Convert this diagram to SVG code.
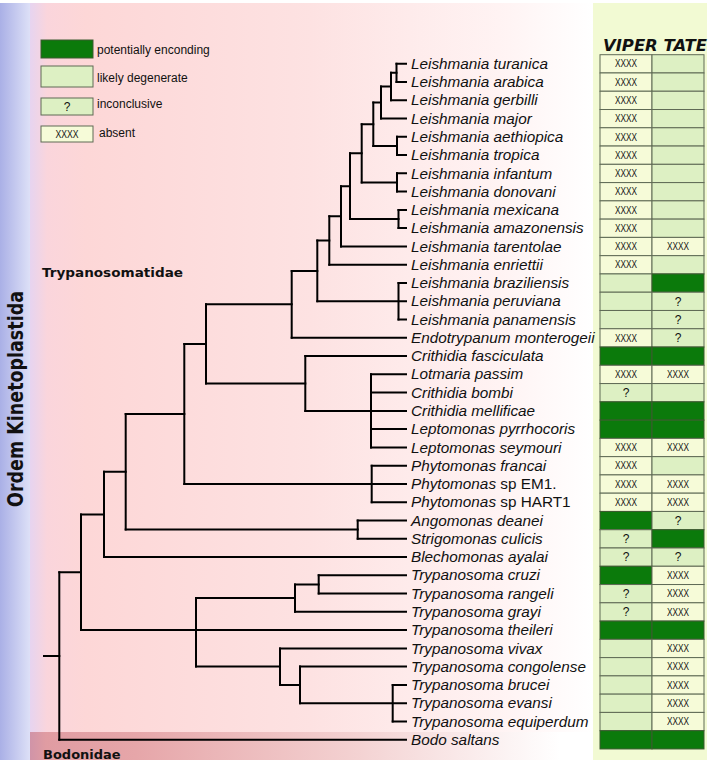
<svg xmlns="http://www.w3.org/2000/svg" width="709" height="763" viewBox="0 0 709 763">
<defs>
<linearGradient id="gBlue" gradientUnits="userSpaceOnUse" x1="0" y1="0" x2="30" y2="0"><stop offset="0" stop-color="#aab0e6"/><stop offset="1" stop-color="#dde0f7"/></linearGradient>
<linearGradient id="gPink" gradientUnits="userSpaceOnUse" x1="30" y1="0" x2="593" y2="0"><stop offset="0" stop-color="#e6d4f0"/><stop offset="0.03" stop-color="#fad5dc"/><stop offset="0.1" stop-color="#fdd7d7"/><stop offset="0.5" stop-color="#fde2e2"/><stop offset="0.85" stop-color="#fff4f4"/><stop offset="1" stop-color="#ffffff"/></linearGradient>
<linearGradient id="gBodo" gradientUnits="userSpaceOnUse" x1="30" y1="0" x2="560" y2="0"><stop offset="0" stop-color="#d094a8"/><stop offset="0.03" stop-color="#e09ca2"/><stop offset="0.2" stop-color="#e6a6a9"/><stop offset="0.6" stop-color="#f3d0d0"/><stop offset="1" stop-color="#ffffff"/></linearGradient>
<style>
.lab{font-family:"Liberation Sans",Arial,sans-serif;font-style:italic;font-size:15.3px;fill:#111}
.up{font-style:normal}
.bold{font-family:"DejaVu Sans",Verdana,sans-serif;font-weight:bold;fill:#111}
.leg{font-family:"Liberation Sans",Arial,sans-serif;font-size:12px;fill:#111}
.xx{font-family:"Liberation Sans",Arial,sans-serif;font-size:10px;fill:#111;text-anchor:middle}
.q{font-family:"Liberation Sans",Arial,sans-serif;font-size:12px;fill:#111;text-anchor:middle}
.pe{fill:#0b7a0b;stroke:#3d5a30;stroke-width:1}
.ld{fill:#ddf0c3;stroke:#5f6a55;stroke-width:1}
.ab{fill:#f6fbd8;stroke:#5f6a55;stroke-width:1}
.tree{fill:none;stroke:#000;stroke-width:2;stroke-linecap:square}
</style>
</defs>
<g id="background">
<rect x="0" y="3" width="30" height="757" fill="url(#gBlue)"/>
<rect x="30" y="3" width="563" height="729" fill="url(#gPink)"/>
<rect x="30" y="732" width="563" height="28" fill="url(#gBodo)"/>
<rect x="593" y="3" width="114" height="757" fill="#f2fad3"/>
</g>
<g id="labels">
<text class="bold" font-size="22" textLength="216" lengthAdjust="spacingAndGlyphs" text-anchor="middle" transform="translate(23,399) rotate(-90)">Ordem Kinetoplastida</text>
<text class="bold" x="42" y="277" font-size="11.5" textLength="141" lengthAdjust="spacingAndGlyphs">Trypanosomatidae</text>
<text class="bold" x="43" y="759" font-size="13">Bodonidae</text>
<text class="bold" x="603" y="51" font-size="15.5" font-style="italic" textLength="104" lengthAdjust="spacingAndGlyphs">VIPER TATE</text>
</g>
<g id="legend">
<rect class="pe" x="41" y="40" width="52" height="18"/><text class="leg" x="97" y="54">potentially enconding</text>
<rect class="ld" x="41" y="66" width="52" height="21"/><text class="leg" x="97" y="82">likely degenerate</text>
<rect class="ld" x="41" y="98" width="52" height="17"/><text class="q" x="67" y="111">?</text><text class="leg" x="97" y="108">inconclusive</text>
<rect class="ab" x="41" y="126" width="52" height="16"/><text class="xx" x="67" y="138" textLength="23" lengthAdjust="spacingAndGlyphs">XXXX</text><text class="leg" x="99" y="137">absent</text>
</g>
<g id="connectors" class="tree">
<path d="M396.5,63.7V82M391,72.85V100.2M381,86.5V118.5M397,136.8V155.1M373.3,102.5V145.95M397,173.3V191.6M361.7,124.2V182.45M398.5,209.9V228.1M350,153.3V219M341,186.2V246.4M329.3,216.3V264.7M398.5,283V319.5M317.3,240.5V301.2M291.7,270.9V337.8M371,374.3V447.4M305.3,356V410.9M206,304.3V383.5M371.7,465.7V502.2M184.3,343.9V483.9M357.7,520.5V538.7M125.7,413.9V529.6M104,471.7V557M318.7,575.3V593.6M295,584.4V611.8M392.7,684.9V721.4M300,666.6V703.2M280,648.4V684.9M196,598.1V666.6M81,514.4V630.1M59.3,572.3V739.7"/>
<path d="M391,72.85H396.5M381,86.5H391M373.3,102.5H381M373.3,145.95H397M361.7,124.2H373.3M361.7,182.45H397M350,153.3H361.7M350,219H398.5M341,186.2H350M329.3,216.3H341M317.3,240.5H329.3M291.7,270.9H317.3M206,304.3H291.7M206,383.5H305.3M184.3,343.9H206M125.7,413.9H184.3M125.7,529.6H357.7M104,471.7H125.7M81,514.4H104M295,584.4H318.7M196,598.1H295M280,666.6H196M280,684.9H300M59.3,572.3H81M44,656H59.3"/>
<path d="M396.5,63.7H406M396.5,82H406M391,100.2H406M381,118.5H406M397,136.8H406M397,155.1H406M397,173.3H406M397,191.6H406M398.5,209.9H406M398.5,228.1H406M341,246.4H406M329.3,264.7H406M398.5,283H406M317.3,301.2H406M398.5,319.5H406M291.7,337.8H406M305.3,356H406M371,374.3H406M371,392.6H406M305.3,410.9H406M371,429.1H406M371,447.4H406M371.7,465.7H406M184.3,483.9H406M371.7,502.2H406M357.7,520.5H406M357.7,538.7H406M104,557H406M318.7,575.3H406M318.7,593.6H406M295,611.8H406M81,630.1H406M280,648.4H406M300,666.6H406M392.7,684.9H406M300,703.2H406M392.7,721.4H406M59.3,739.7H406"/>
</g>
<g id="t00" transform="translate(0,54.7)"><text class="lab" x="411" y="14.2">Leishmania turanica</text><rect class="ab" x="600" width="52" height="18.27"/><text class="xx" x="626" y="12.8" textLength="22" lengthAdjust="spacingAndGlyphs">XXXX</text><rect class="ld" x="652" width="52" height="18.27"/></g>
<g id="t01" transform="translate(0,72.97)"><text class="lab" x="411" y="14.2">Leishmania arabica</text><rect class="ab" x="600" width="52" height="18.27"/><text class="xx" x="626" y="12.8" textLength="22" lengthAdjust="spacingAndGlyphs">XXXX</text><rect class="ld" x="652" width="52" height="18.27"/></g>
<g id="t02" transform="translate(0,91.24)"><text class="lab" x="411" y="14.2">Leishmania gerbilli</text><rect class="ab" x="600" width="52" height="18.27"/><text class="xx" x="626" y="12.8" textLength="22" lengthAdjust="spacingAndGlyphs">XXXX</text><rect class="ld" x="652" width="52" height="18.27"/></g>
<g id="t03" transform="translate(0,109.51)"><text class="lab" x="411" y="14.2">Leishmania major</text><rect class="ab" x="600" width="52" height="18.27"/><text class="xx" x="626" y="12.8" textLength="22" lengthAdjust="spacingAndGlyphs">XXXX</text><rect class="ld" x="652" width="52" height="18.27"/></g>
<g id="t04" transform="translate(0,127.78)"><text class="lab" x="411" y="14.2">Leishmania aethiopica</text><rect class="ab" x="600" width="52" height="18.27"/><text class="xx" x="626" y="12.8" textLength="22" lengthAdjust="spacingAndGlyphs">XXXX</text><rect class="ld" x="652" width="52" height="18.27"/></g>
<g id="t05" transform="translate(0,146.05)"><text class="lab" x="411" y="14.2">Leishmania tropica</text><rect class="ab" x="600" width="52" height="18.27"/><text class="xx" x="626" y="12.8" textLength="22" lengthAdjust="spacingAndGlyphs">XXXX</text><rect class="ld" x="652" width="52" height="18.27"/></g>
<g id="t06" transform="translate(0,164.32)"><text class="lab" x="411" y="14.2">Leishmania infantum</text><rect class="ab" x="600" width="52" height="18.27"/><text class="xx" x="626" y="12.8" textLength="22" lengthAdjust="spacingAndGlyphs">XXXX</text><rect class="ld" x="652" width="52" height="18.27"/></g>
<g id="t07" transform="translate(0,182.59)"><text class="lab" x="411" y="14.2">Leishmania donovani</text><rect class="ab" x="600" width="52" height="18.27"/><text class="xx" x="626" y="12.8" textLength="22" lengthAdjust="spacingAndGlyphs">XXXX</text><rect class="ld" x="652" width="52" height="18.27"/></g>
<g id="t08" transform="translate(0,200.86)"><text class="lab" x="411" y="14.2">Leishmania mexicana</text><rect class="ab" x="600" width="52" height="18.27"/><text class="xx" x="626" y="12.8" textLength="22" lengthAdjust="spacingAndGlyphs">XXXX</text><rect class="ld" x="652" width="52" height="18.27"/></g>
<g id="t09" transform="translate(0,219.13)"><text class="lab" x="411" y="14.2">Leishmania amazonensis</text><rect class="ab" x="600" width="52" height="18.27"/><text class="xx" x="626" y="12.8" textLength="22" lengthAdjust="spacingAndGlyphs">XXXX</text><rect class="ld" x="652" width="52" height="18.27"/></g>
<g id="t10" transform="translate(0,237.4)"><text class="lab" x="411" y="14.2">Leishmania tarentolae</text><rect class="ab" x="600" width="52" height="18.27"/><text class="xx" x="626" y="12.8" textLength="22" lengthAdjust="spacingAndGlyphs">XXXX</text><rect class="ab" x="652" width="52" height="18.27"/><text class="xx" x="678" y="12.8" textLength="22" lengthAdjust="spacingAndGlyphs">XXXX</text></g>
<g id="t11" transform="translate(0,255.67)"><text class="lab" x="411" y="14.2">Leishmania enriettii</text><rect class="ab" x="600" width="52" height="18.27"/><text class="xx" x="626" y="12.8" textLength="22" lengthAdjust="spacingAndGlyphs">XXXX</text><rect class="ld" x="652" width="52" height="18.27"/></g>
<g id="t12" transform="translate(0,273.94)"><text class="lab" x="411" y="14.2">Leishmania braziliensis</text><rect class="ld" x="600" width="52" height="18.27"/><rect class="pe" x="652" width="52" height="18.27"/></g>
<g id="t13" transform="translate(0,292.21)"><text class="lab" x="411" y="14.2">Leishmania peruviana</text><rect class="ld" x="600" width="52" height="18.27"/><rect class="ld" x="652" width="52" height="18.27"/><text class="q" x="678" y="13.5">?</text></g>
<g id="t14" transform="translate(0,310.48)"><text class="lab" x="411" y="14.2">Leishmania panamensis</text><rect class="ld" x="600" width="52" height="18.27"/><rect class="ld" x="652" width="52" height="18.27"/><text class="q" x="678" y="13.5">?</text></g>
<g id="t15" transform="translate(0,328.75)"><text class="lab" x="411" y="14.2">Endotrypanum monterogeii</text><rect class="ab" x="600" width="52" height="18.27"/><text class="xx" x="626" y="12.8" textLength="22" lengthAdjust="spacingAndGlyphs">XXXX</text><rect class="ld" x="652" width="52" height="18.27"/><text class="q" x="678" y="13.5">?</text></g>
<g id="t16" transform="translate(0,347.02)"><text class="lab" x="411" y="14.2">Crithidia fasciculata</text><rect class="pe" x="600" width="52" height="18.27"/><rect class="pe" x="652" width="52" height="18.27"/></g>
<g id="t17" transform="translate(0,365.29)"><text class="lab" x="411" y="14.2">Lotmaria passim</text><rect class="ab" x="600" width="52" height="18.27"/><text class="xx" x="626" y="12.8" textLength="22" lengthAdjust="spacingAndGlyphs">XXXX</text><rect class="ab" x="652" width="52" height="18.27"/><text class="xx" x="678" y="12.8" textLength="22" lengthAdjust="spacingAndGlyphs">XXXX</text></g>
<g id="t18" transform="translate(0,383.56)"><text class="lab" x="411" y="14.2">Crithidia bombi</text><rect class="ld" x="600" width="52" height="18.27"/><text class="q" x="626" y="13.5">?</text><rect class="ld" x="652" width="52" height="18.27"/></g>
<g id="t19" transform="translate(0,401.83)"><text class="lab" x="411" y="14.2">Crithidia mellificae</text><rect class="pe" x="600" width="52" height="18.27"/><rect class="pe" x="652" width="52" height="18.27"/></g>
<g id="t20" transform="translate(0,420.1)"><text class="lab" x="411" y="14.2">Leptomonas pyrrhocoris</text><rect class="pe" x="600" width="52" height="18.27"/><rect class="pe" x="652" width="52" height="18.27"/></g>
<g id="t21" transform="translate(0,438.37)"><text class="lab" x="411" y="14.2">Leptomonas seymouri</text><rect class="ab" x="600" width="52" height="18.27"/><text class="xx" x="626" y="12.8" textLength="22" lengthAdjust="spacingAndGlyphs">XXXX</text><rect class="ab" x="652" width="52" height="18.27"/><text class="xx" x="678" y="12.8" textLength="22" lengthAdjust="spacingAndGlyphs">XXXX</text></g>
<g id="t22" transform="translate(0,456.64)"><text class="lab" x="411" y="14.2">Phytomonas francai</text><rect class="ab" x="600" width="52" height="18.27"/><text class="xx" x="626" y="12.8" textLength="22" lengthAdjust="spacingAndGlyphs">XXXX</text><rect class="ld" x="652" width="52" height="18.27"/></g>
<g id="t23" transform="translate(0,474.91)"><text class="lab" x="411" y="14.2">Phytomonas<tspan class="up"> sp EM1.</tspan></text><rect class="ab" x="600" width="52" height="18.27"/><text class="xx" x="626" y="12.8" textLength="22" lengthAdjust="spacingAndGlyphs">XXXX</text><rect class="ab" x="652" width="52" height="18.27"/><text class="xx" x="678" y="12.8" textLength="22" lengthAdjust="spacingAndGlyphs">XXXX</text></g>
<g id="t24" transform="translate(0,493.18)"><text class="lab" x="411" y="14.2">Phytomonas<tspan class="up"> sp HART1</tspan></text><rect class="ab" x="600" width="52" height="18.27"/><text class="xx" x="626" y="12.8" textLength="22" lengthAdjust="spacingAndGlyphs">XXXX</text><rect class="ab" x="652" width="52" height="18.27"/><text class="xx" x="678" y="12.8" textLength="22" lengthAdjust="spacingAndGlyphs">XXXX</text></g>
<g id="t25" transform="translate(0,511.45)"><text class="lab" x="411" y="14.2">Angomonas deanei</text><rect class="pe" x="600" width="52" height="18.27"/><rect class="ld" x="652" width="52" height="18.27"/><text class="q" x="678" y="13.5">?</text></g>
<g id="t26" transform="translate(0,529.72)"><text class="lab" x="411" y="14.2">Strigomonas culicis</text><rect class="ld" x="600" width="52" height="18.27"/><text class="q" x="626" y="13.5">?</text><rect class="pe" x="652" width="52" height="18.27"/></g>
<g id="t27" transform="translate(0,547.99)"><text class="lab" x="411" y="14.2">Blechomonas ayalai</text><rect class="ld" x="600" width="52" height="18.27"/><text class="q" x="626" y="13.5">?</text><rect class="ld" x="652" width="52" height="18.27"/><text class="q" x="678" y="13.5">?</text></g>
<g id="t28" transform="translate(0,566.26)"><text class="lab" x="411" y="14.2">Trypanosoma cruzi</text><rect class="pe" x="600" width="52" height="18.27"/><rect class="ab" x="652" width="52" height="18.27"/><text class="xx" x="678" y="12.8" textLength="22" lengthAdjust="spacingAndGlyphs">XXXX</text></g>
<g id="t29" transform="translate(0,584.53)"><text class="lab" x="411" y="14.2">Trypanosoma rangeli</text><rect class="ld" x="600" width="52" height="18.27"/><text class="q" x="626" y="13.5">?</text><rect class="ab" x="652" width="52" height="18.27"/><text class="xx" x="678" y="12.8" textLength="22" lengthAdjust="spacingAndGlyphs">XXXX</text></g>
<g id="t30" transform="translate(0,602.8)"><text class="lab" x="411" y="14.2">Trypanosoma grayi</text><rect class="ld" x="600" width="52" height="18.27"/><text class="q" x="626" y="13.5">?</text><rect class="ab" x="652" width="52" height="18.27"/><text class="xx" x="678" y="12.8" textLength="22" lengthAdjust="spacingAndGlyphs">XXXX</text></g>
<g id="t31" transform="translate(0,621.07)"><text class="lab" x="411" y="14.2">Trypanosoma theileri</text><rect class="pe" x="600" width="52" height="18.27"/><rect class="pe" x="652" width="52" height="18.27"/></g>
<g id="t32" transform="translate(0,639.34)"><text class="lab" x="411" y="14.2">Trypanosoma vivax</text><rect class="ld" x="600" width="52" height="18.27"/><rect class="ab" x="652" width="52" height="18.27"/><text class="xx" x="678" y="12.8" textLength="22" lengthAdjust="spacingAndGlyphs">XXXX</text></g>
<g id="t33" transform="translate(0,657.61)"><text class="lab" x="411" y="14.2">Trypanosoma congolense</text><rect class="ld" x="600" width="52" height="18.27"/><rect class="ab" x="652" width="52" height="18.27"/><text class="xx" x="678" y="12.8" textLength="22" lengthAdjust="spacingAndGlyphs">XXXX</text></g>
<g id="t34" transform="translate(0,675.88)"><text class="lab" x="411" y="14.2">Trypanosoma brucei</text><rect class="ld" x="600" width="52" height="18.27"/><rect class="ab" x="652" width="52" height="18.27"/><text class="xx" x="678" y="12.8" textLength="22" lengthAdjust="spacingAndGlyphs">XXXX</text></g>
<g id="t35" transform="translate(0,694.15)"><text class="lab" x="411" y="14.2">Trypanosoma evansi</text><rect class="ld" x="600" width="52" height="18.27"/><rect class="ab" x="652" width="52" height="18.27"/><text class="xx" x="678" y="12.8" textLength="22" lengthAdjust="spacingAndGlyphs">XXXX</text></g>
<g id="t36" transform="translate(0,712.42)"><text class="lab" x="411" y="14.2">Trypanosoma equiperdum</text><rect class="ld" x="600" width="52" height="18.27"/><rect class="ab" x="652" width="52" height="18.27"/><text class="xx" x="678" y="12.8" textLength="22" lengthAdjust="spacingAndGlyphs">XXXX</text></g>
<g id="t37" transform="translate(0,730.69)"><text class="lab" x="411" y="14.2">Bodo saltans</text><rect class="pe" x="600" width="52" height="18.27"/><rect class="pe" x="652" width="52" height="18.27"/></g>
</svg>
